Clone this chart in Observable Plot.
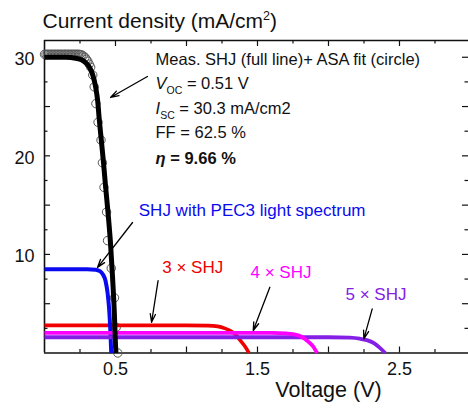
<!DOCTYPE html>
<html><head><meta charset="utf-8">
<script src="https://cdn.jsdelivr.net/npm/d3@7"></script>
<script src="https://cdn.jsdelivr.net/npm/@observablehq/plot@0.6"></script>
<style>body{margin:0;background:#fff}#chart{width:468px;height:408px}</style>
</head><body><div id="chart"></div>
<script>
// Measured SHJ J-V (full line)
const measV = [0, 0.15, 0.22, 0.26, 0.29, 0.32, 0.34, 0.36, 0.375, 0.385, 0.40, 0.415, 0.43, 0.447, 0.465, 0.48, 0.492, 0.50, 0.503];
const measJ = [30.0, 30.0, 29.9, 29.75, 29.45, 28.9, 28.2, 27.0, 25.5, 23.8, 21.6, 19.4, 16.9, 14.3, 11.1, 7.5, 4.0, 0.8, 0];
// ASA fit (circles)
const fitV = [0, 0.01, 0.02, 0.03, 0.04, 0.05, 0.06, 0.07, 0.08, 0.09, 0.10, 0.11, 0.12, 0.13, 0.14, 0.15, 0.16, 0.17, 0.18, 0.19, 0.20, 0.21, 0.22, 0.23, 0.24, 0.25, 0.26, 0.272, 0.285, 0.295, 0.305, 0.315, 0.325, 0.34, 0.35, 0.362, 0.377, 0.398, 0.408, 0.419, 0.437, 0.444, 0.47, 0.493, 0.505, 0.516];
const fitJ = [30.3, 30.3, 30.3, 30.3, 30.3, 30.3, 30.3, 30.3, 30.3, 30.3, 30.3, 30.3, 30.3, 30.3, 30.3, 30.3, 30.3, 30.3, 30.3, 30.3, 30.3, 30.3, 30.3, 30.3, 30.3, 30.28, 30.25, 30.15, 30.0, 29.8, 29.6, 29.3, 29.0, 28.2, 27.0, 25.3, 23.4, 21.6, 19.3, 16.8, 14.3, 11.4, 8.6, 5.6, 2.6, 0];
// SHJ with PEC3 light spectrum
const pecV = [0, 0.30, 0.36, 0.39, 0.41, 0.43, 0.445, 0.455, 0.463, 0.47];
const pecJ = [8.5, 8.5, 8.45, 8.3, 8.0, 7.3, 6.0, 4.5, 2.5, 0];
// 3 x SHJ
const x3V = [0, 1.0, 1.15, 1.22, 1.27, 1.31, 1.35, 1.38, 1.41, 1.44];
const x3J = [2.8, 2.8, 2.78, 2.7, 2.5, 2.25, 1.8, 1.25, 0.7, 0];
// 4 x SHJ
const x4V = [0, 1.6, 1.7, 1.76, 1.81, 1.85, 1.89, 1.92];
const x4J = [2.05, 2.05, 2.0, 1.88, 1.65, 1.25, 0.7, 0];
// 5 x SHJ
const x5V = [0, 2.0, 2.15, 2.22, 2.27, 2.32, 2.36, 2.40];
const x5J = [1.6, 1.6, 1.55, 1.45, 1.3, 1.0, 0.55, 0];

const xTickLabels = [0.5, 1.5, 2.5];
const yTickLabels = [10, 20, 30];
const xMajorTicks = [0.5, 1.0, 1.5, 2.0, 2.5];
const xMinorTicks = [0.25, 0.75, 1.25, 1.75, 2.25, 2.75];
const yMajorTicks = [5, 10, 15, 20, 25, 30];
const yMinorTicks = [2.5, 7.5, 12.5, 17.5, 22.5, 27.5];

const statsLines = ["Meas. SHJ (full line)+ ASA fit (circle)", "VOC = 0.51 V", "ISC = 30.3 mA/cm2", "FF = 62.5 %"];
const statsJ = [29.8, 27.3, 24.8, 22.3];
const etaLine = "η = 9.66 %";
const etaJ = 19.75;
const statsV = 0.782;

const curveLabels = ["SHJ with PEC3 light spectrum", "3 × SHJ", "4 × SHJ", "5 × SHJ"];
const curveLabelV = [0.664, 0.829, 1.451, 2.12];
const curveLabelJ = [14.5, 8.63, 8.17, 5.94];
const curveColors = ["#0a0af0", "#f00000", "#ff00ff", "#8420e6"];

const arrowFromV = [0.725, 0.620, 0.80, 1.587, 2.308];
const arrowFromJ = [28.05, 13.24, 7.35, 6.67, 4.48];
const arrowToV = [0.465, 0.373, 0.754, 1.470, 2.249];
const arrowToJ = [25.92, 8.67, 3.12, 2.28, 1.44];

const xDomain = [0, 2.986];
const yDomain = [0, 31.7];

const FONT = "'Liberation Sans', Arial, Helvetica, sans-serif";
const pts = (V, J) => V.map((v, i) => ({V: v, J: J[i]}));
const W = 468, H = 408, mL = 44, mR = 0, mT = 40, mB = 55.5;
const fw = W - mL - mR, fh = H - mT - mB;

const arrows = arrowFromV.map((v, i) => ({x1: v, y1: arrowFromJ[i], x2: arrowToV[i], y2: arrowToJ[i]}));
const stats = statsLines.map((t, i) => ({t, V: statsV, J: statsJ[i]}));
const labels = curveLabels.map((t, i) => ({t, V: curveLabelV[i], J: curveLabelJ[i], c: curveColors[i]}));

const lineOpts = {x: "V", y: "J", curve: "monotone-x", strokeLinejoin: "round", strokeLinecap: "butt"};

const plot = Plot.plot({
  width: W, height: H,
  marginLeft: mL, marginRight: mR, marginTop: mT, marginBottom: mB,
  style: {fontFamily: FONT, fontSize: "17px", background: "#fff", color: "#000", overflow: "visible"},
  x: {domain: xDomain, axis: null},
  y: {domain: yDomain, axis: null},
  marks: [
    // frame lines
    Plot.ruleX([xDomain[0]], {stroke: "#111", strokeWidth: 1.6}),
    Plot.ruleY([yDomain[0], yDomain[1]], {stroke: "#111", strokeWidth: 1.6}),
    // x ticks (inward, bottom and top)
    Plot.ruleX(xMajorTicks, {stroke: "#111", strokeWidth: 1.2, insetTop: fh - 6}),
    Plot.ruleX(xMinorTicks, {stroke: "#111", strokeWidth: 1.2, insetTop: fh - 3.5}),
    Plot.ruleX(xMajorTicks, {stroke: "#111", strokeWidth: 1.2, insetBottom: fh - 6}),
    Plot.ruleX(xMinorTicks, {stroke: "#111", strokeWidth: 1.2, insetBottom: fh - 3.5}),
    // y ticks (inward, left and right)
    Plot.ruleY(yMajorTicks, {stroke: "#111", strokeWidth: 1.2, insetRight: fw - 6}),
    Plot.ruleY(yMinorTicks, {stroke: "#111", strokeWidth: 1.2, insetRight: fw - 3.5}),
    Plot.ruleY(yMajorTicks, {stroke: "#111", strokeWidth: 1.2, insetLeft: fw - 6}),
    Plot.ruleY(yMinorTicks, {stroke: "#111", strokeWidth: 1.2, insetLeft: fw - 3.5}),
    // tick labels
    Plot.text(xTickLabels, {x: d => d, frameAnchor: "bottom", lineAnchor: "top", dy: 9, text: d => String(d), fontSize: 18, fill: "#111"}),
    Plot.text(yTickLabels, {y: d => d, frameAnchor: "left", textAnchor: "end", dx: -10, dy: 2, text: d => String(d), fontSize: 18, fill: "#111"}),
    // axis titles
    Plot.text(["Current density (mA/cm2)"], {frameAnchor: "top-left", textAnchor: "start", lineAnchor: "middle", dx: -2, dy: -19, text: d => d, fontSize: 21, fill: "#111"}),
    Plot.text(["Voltage (V)"], {x: [2.0], frameAnchor: "bottom", lineAnchor: "middle", dy: 37, text: d => d, fontSize: 21.5, fill: "#111"}),
    // ASA fit circles
    Plot.dot(pts(fitV, fitJ), {x: "V", y: "J", r: 4.2, stroke: "#555", strokeWidth: 1, fill: "none"}),
    // colored curves
    Plot.line(pts(x3V, x3J), {...lineOpts, stroke: curveColors[1], strokeWidth: 3.6}),
    Plot.line(pts(pecV, pecJ), {...lineOpts, stroke: curveColors[0], strokeWidth: 4}),
    Plot.line(pts(x5V, x5J), {...lineOpts, stroke: curveColors[3], strokeWidth: 3.8}),
    Plot.line(pts(x4V, x4J), {...lineOpts, stroke: curveColors[2], strokeWidth: 3.8}),
    // measured SHJ
    Plot.line(pts(measV, measJ), {...lineOpts, stroke: "#000", strokeWidth: 5}),
    // arrows
    Plot.arrow(arrows, {x1: "x1", y1: "y1", x2: "x2", y2: "y2", stroke: "#000", strokeWidth: 1.3, headLength: 10, headAngle: 35}),
    // annotation block
    Plot.text(stats, {x: "V", y: "J", text: "t", textAnchor: "start", lineAnchor: "middle", fontSize: 16.5, fill: "#111"}),
    Plot.text([etaLine], {x: [statsV], y: [etaJ], text: d => d, textAnchor: "start", lineAnchor: "middle", fontSize: 16.5, fontWeight: "bold", fill: "#111"}),
    // curve labels
    Plot.text(labels, {x: "V", y: "J", text: "t", textAnchor: "start", lineAnchor: "middle", fontSize: 17, fill: d => d.c})
  ]
});
document.getElementById("chart").appendChild(plot);

// rich text formatting (italic symbols, subscripts, superscripts)
const richMap = {
  "Current density (mA/cm2)": [{t: "Current density (mA/cm"}, {t: "2", sup: true, size: 12.5}, {t: ")"}],
  "VOC = 0.51 V": [{t: "V", italic: true}, {t: "OC", sub: true, size: 10.5}, {t: " = 0.51 V"}],
  "ISC = 30.3 mA/cm2": [{t: "I", italic: true}, {t: "SC", sub: true, size: 10.5}, {t: " = 30.3 mA/cm2"}],
  "η = 9.66 %": [{t: "η", italic: true}, {t: " = 9.66 %"}]
};
d3.select(plot).selectAll("text").each(function() {
  const parts = richMap[this.textContent];
  if (!parts) return;
  const el = d3.select(this);
  el.text("");
  let shift = 0;
  for (const p of parts) {
    const ts = el.append("tspan").text(p.t);
    if (p.italic) ts.attr("font-style", "italic");
    if (p.size) ts.attr("font-size", p.size);
    let target = p.sub ? 5 : p.sup ? -8 : 0;
    if (target !== shift) { ts.attr("dy", target - shift); shift = target; }
  }
});
</script>
</body></html>
